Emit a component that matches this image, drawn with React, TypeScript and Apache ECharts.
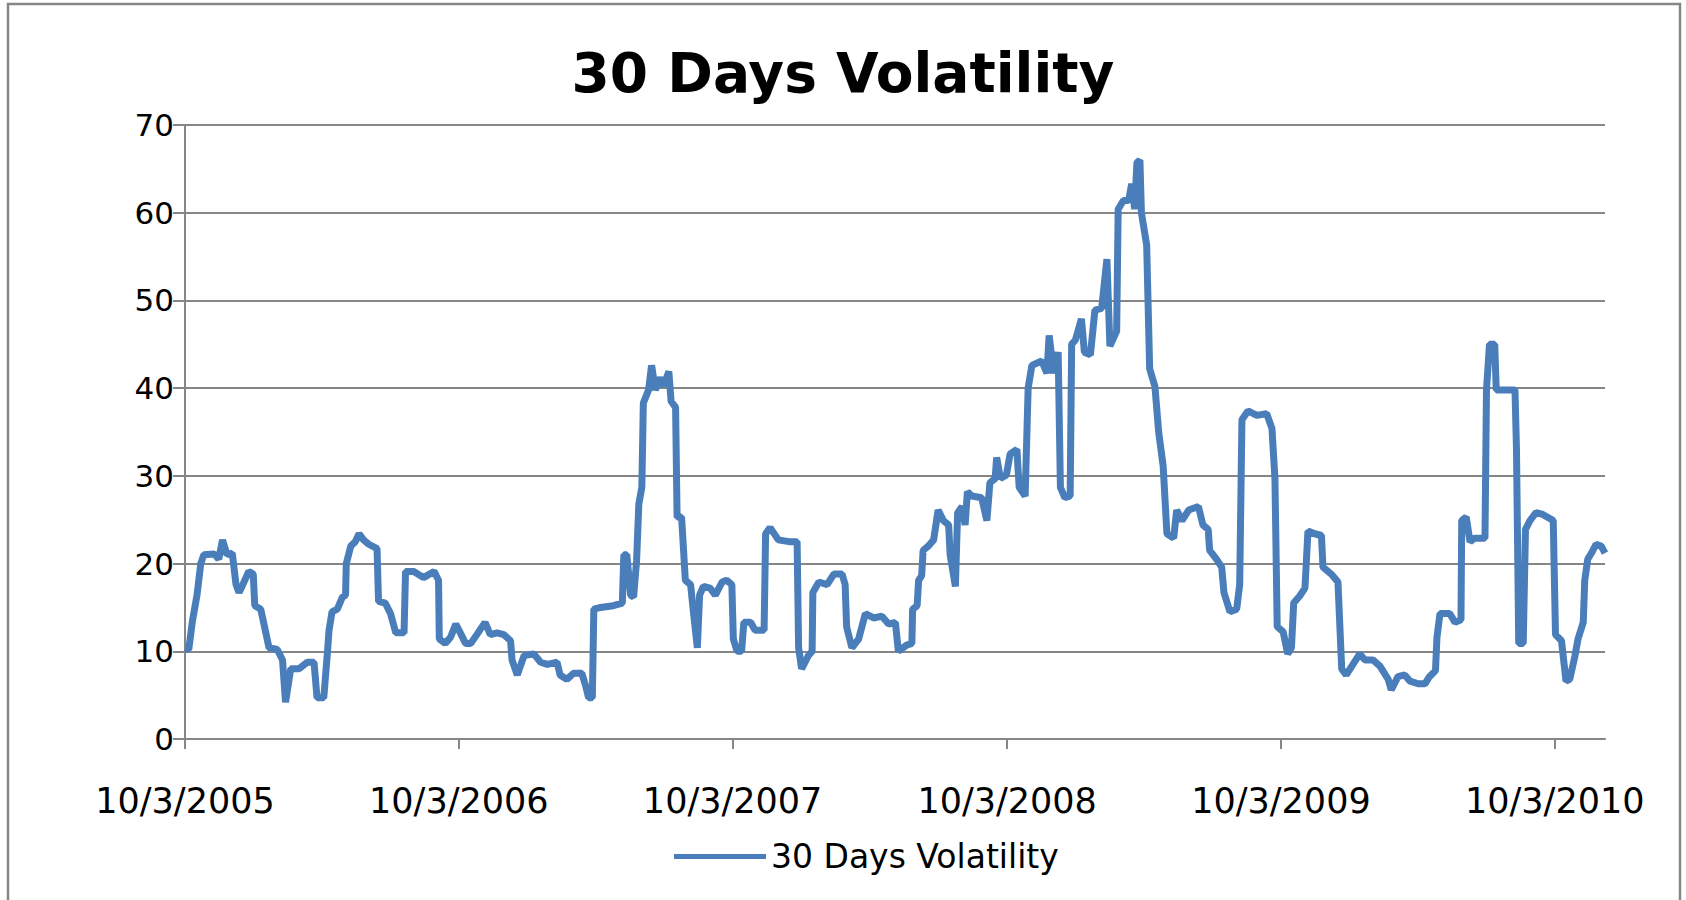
import React, { useEffect, useRef } from "react";
import * as echarts from "echarts";

// Days elapsed since 10/3/2005 (first trading day shown)
const START_UTC = Date.UTC(2005, 9, 3);
const dayOffsets = [
  0, 5, 10, 16, 21, 25, 39, 45, 50, 56, 63, 68, 72, 76, 85, 91, 93, 101, 107, 112,
  123, 130, 134, 141, 152, 163, 172, 176, 185, 190, 192, 196, 203, 210, 214, 215, 221, 227, 232, 238,
  245, 256, 258, 267, 274, 281, 292, 294, 305, 318, 332, 338, 339, 347, 354, 361, 367, 374, 381, 389,
  400, 407, 416, 425, 434, 436, 443, 452, 465, 474, 483, 496, 500, 509, 518, 529, 534, 538, 543, 545,
  554, 571, 583, 585, 589, 594, 598, 602, 605, 609, 611, 618, 622, 627, 634, 638, 645, 648, 654, 656,
  662, 667, 674, 678, 683, 686, 691, 700, 707, 716, 722, 729, 731, 736, 742, 745, 754, 760, 772, 774,
  780, 791, 805, 816, 818, 822, 831, 836, 837, 845, 856, 865, 876, 880, 882, 889, 898, 907, 918, 929,
  938, 947, 951, 962, 969, 970, 976, 978, 982, 984, 991, 998, 1004, 1011, 1018, 1020, 1027, 1030, 1036, 1040,
  1043, 1049, 1062, 1069, 1073, 1080, 1082, 1087, 1095, 1100, 1109, 1112, 1120, 1124, 1129, 1142, 1149, 1152, 1158, 1164,
  1167, 1173, 1180, 1182, 1187, 1195, 1199, 1207, 1213, 1222, 1229, 1233, 1242, 1244, 1251, 1258, 1262, 1266, 1269, 1273,
  1275, 1282, 1286, 1293, 1298, 1304, 1309, 1318, 1322, 1329, 1338, 1351, 1357, 1364, 1366, 1375, 1382, 1385, 1393, 1402,
  1406, 1409, 1417, 1429, 1442, 1449, 1453, 1456, 1464, 1470, 1475, 1478, 1486, 1493, 1497, 1506, 1515, 1517, 1528, 1537,
  1542, 1548, 1557, 1566, 1573, 1584, 1593, 1604, 1608, 1617, 1626, 1633, 1644, 1653, 1659, 1667, 1669, 1673, 1686, 1693,
  1701, 1702, 1708, 1713, 1719, 1733, 1735, 1739, 1746, 1748, 1757, 1773, 1775, 1778, 1784, 1787, 1793, 1801, 1810, 1824,
  1827, 1835, 1841, 1846, 1853, 1857, 1864, 1866, 1870, 1875, 1881, 1888, 1893,
];
const volatility = [
  10.3, 10.2, 13.5, 16.4, 20, 21, 21.1, 20.5, 22.7, 21, 21.2, 17.6, 16.7, 17.4, 19.1, 18.8, 15.2, 14.8, 12.4, 10.4,
  10.2, 9, 4.2, 8, 8, 8.75, 8.75, 4.7, 4.7, 10, 12.4, 14.5, 14.8, 16.2, 16.4, 20, 22, 22.5, 23.4, 22.7,
  22.2, 21.7, 15.7, 15.5, 14.3, 12.1, 12.1, 19.1, 19.1, 18.4, 19.1, 18.1, 11.4, 10.9, 11.6, 13.1, 12.1, 10.9, 10.9, 11.9,
  13.3, 11.9, 12.1, 11.9, 11.2, 9, 7.3, 9.5, 9.7, 8.75, 8.5, 8.75, 7.3, 6.8, 7.5, 7.5, 6.1, 4.7, 4.7, 14.8,
  15, 15.2, 15.5, 21, 21, 16.4, 16.2, 20.3, 26.8, 28.7, 38.3, 39.8, 42.6, 39.8, 41.2, 40.2, 41.9, 38.5, 37.8, 25.3,
  25.3, 18.1, 17.6, 14.3, 10.4, 16.4, 17.4, 17.2, 16.4, 17.9, 18.1, 17.6, 11.4, 10, 10, 13.3, 13.3, 12.4, 12.4, 23.4,
  24.1, 22.7, 22.5, 22.5, 10.4, 8, 9.5, 10, 16.7, 17.9, 17.6, 18.8, 18.8, 17.6, 12.8, 10.4, 11.4, 14.3, 13.8, 14,
  13.1, 13.3, 10, 10.7, 10.9, 14.8, 15.2, 18.1, 18.6, 21.5, 22, 22.7, 26.1, 24.9, 24.4, 21, 17.4, 25.8, 26.5, 24.4,
  28.2, 27.7, 27.5, 24.9, 29.2, 29.7, 32.1, 29.7, 30.1, 32.5, 33, 28.7, 27.7, 40, 42.6, 43.1, 41.7, 46, 41.7, 44.1,
  28.7, 27.5, 27.7, 45, 45.5, 47.9, 44.1, 43.8, 48.9, 49.1, 54.7, 44.8, 46.5, 60.4, 61.4, 61.4, 63.3, 60.4, 65.7, 66,
  60, 56.3, 42.2, 40.2, 35, 31.1, 23.4, 22.9, 26.1, 24.9, 26.1, 26.5, 24.4, 23.9, 21.5, 20.5, 19.6, 16.7, 14.5, 14.8,
  17.6, 36.4, 37.4, 36.9, 37.1, 35.4, 29.7, 12.8, 12.2, 9.7, 10.4, 15.5, 16.3, 17.2, 23.7, 23.4, 23.2, 19.6, 18.8, 17.9,
  8, 7.3, 8.5, 9.7, 9, 9, 8.3, 6.8, 5.6, 7.1, 7.3, 6.6, 6.3, 6.3, 7.1, 7.8, 11.6, 14.3, 14.3, 13.3,
  13.6, 24.9, 25.3, 22.5, 22.9, 22.9, 39.8, 45, 45, 39.8, 39.8, 39.8, 33, 10.9, 10.9, 23.9, 24.9, 25.8, 25.6, 24.9,
  11.9, 11.2, 6.6, 6.8, 9.5, 11.4, 13.3, 18.1, 20.5, 21.2, 22.2, 22, 21.2,
];
const tickDates = ["2005-10-03", "2006-10-03", "2007-10-03", "2008-10-03", "2009-10-03", "2010-10-03"];
const AXIS_MAX_DAY = 1893;
const SERIES_NAME = "30 Days Volatility";
const TITLE = "30 Days Volatility";

const DAY_MS = 86400000;
const toDay = (iso: string) => {
  const [y, m, d] = iso.split("-").map(Number);
  return Math.round((Date.UTC(y, m - 1, d) - START_UTC) / DAY_MS);
};
const fmtDay = (v: number) => {
  const dt = new Date(START_UTC + Math.round(v) * DAY_MS);
  return `${dt.getUTCMonth() + 1}/${dt.getUTCDate()}/${dt.getUTCFullYear()}`;
};

export default function App() {
  const ref = useRef<HTMLDivElement>(null);
  useEffect(() => {
    if (!ref.current) return;
    const chart = echarts.init(ref.current, undefined, { renderer: "svg" });
    const tickDays = tickDates.map(toDay);
    const grey = "#868686";
    const font = "'DejaVu Sans', Verdana, sans-serif";
    chart.setOption({
      animation: false,
      backgroundColor: "#ffffff",
      title: {
        text: TITLE,
        left: "center",
        top: 40,
        textStyle: { fontFamily: font, fontWeight: "bold", fontSize: 55, color: "#000" },
      },
      legend: {
        data: [SERIES_NAME],
        left: 669,
        top: 835,
        icon: "rect",
        itemWidth: 92,
        itemHeight: 5,
        textStyle: { fontFamily: font, fontSize: 33, color: "#000" },
      },
      grid: { left: 185, right: 81, top: 125, bottom: 161, containLabel: false },
      xAxis: {
        type: "value",
        min: 0,
        max: AXIS_MAX_DAY,
        axisLine: { show: true, lineStyle: { color: grey, width: 2 } },
        axisTick: { show: true, length: 10, customValues: tickDays, lineStyle: { color: grey, width: 2 } },
        axisLabel: {
          customValues: tickDays,
          formatter: (v: number) => fmtDay(v),
          margin: 44,
          fontFamily: font,
          fontSize: 35,
          color: "#000",
        },
        splitLine: { show: false },
      },
      yAxis: {
        type: "value",
        min: 0,
        max: 70,
        interval: 10,
        axisLine: { show: true, lineStyle: { color: grey, width: 2 } },
        axisTick: { show: true, length: 12, lineStyle: { color: grey, width: 2 } },
        axisLabel: { margin: 11, fontFamily: font, fontSize: 31, color: "#000" },
        splitLine: { show: true, lineStyle: { color: grey, width: 2 } },
      },
      graphic: [
        {
          type: "rect",
          shape: { x: 8, y: 4, width: 1672, height: 1000 },
          style: { fill: "none", stroke: grey, lineWidth: 2.5 },
          silent: true,
        },
      ],
      series: [
        {
          name: SERIES_NAME,
          type: "line",
          showSymbol: false,
          symbol: "none",
          color: "#4A7EBB",
          lineStyle: { color: "#4A7EBB", width: 7 },
          data: dayOffsets.map((d, i) => [d, volatility[i]]),
        },
      ],
    });
    return () => chart.dispose();
  }, []);
  return (
    <div
      ref={ref}
      style={{ position: "absolute", left: 0, top: 0, width: 1686, height: 900, background: "#fff" }}
    />
  );
}
